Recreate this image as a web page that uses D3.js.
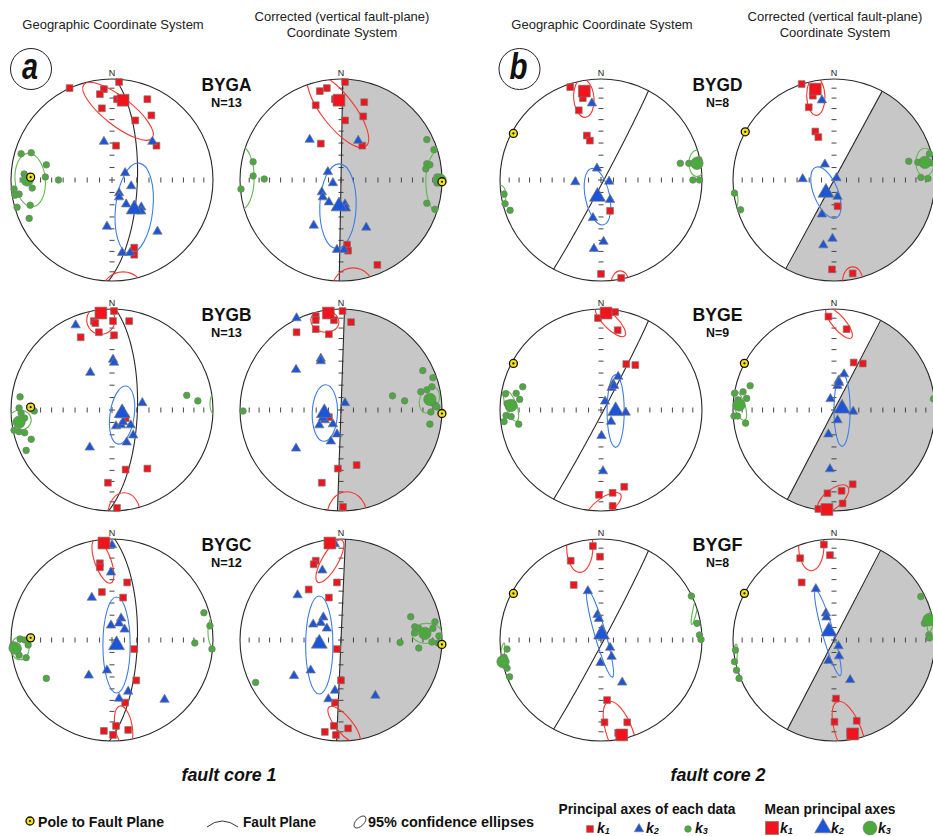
<!DOCTYPE html>
<html>
<head>
<meta charset="utf-8">
<script src="https://cdn.jsdelivr.net/npm/d3@7"></script>
<style>
  body { margin: 0; background: #fff; }
  text { font-family: "Liberation Sans", Arial, sans-serif; }
</style>
</head>
<body>
<script>
// point positions are in net units: [east, north], primitive circle = radius 1
// ellipses: [axis (0=k1,1=k2,2=k3), cx, cy, semi-major, semi-minor, angle deg ccw from east]
// fault pole: [trend, plunge]

const samples = ["BYGA", "BYGB", "BYGC", "BYGD", "BYGE", "BYGF"];
const sampleN = [13, 13, 12, 8, 9, 8];

// ---- BYGA
const BYGA_g_k1 = [[-0.42,0.91],[0.07,0.97],[-0.08,0.90],[-0.12,0.85],[0.05,0.80],[0.35,0.80],[-0.10,0.71],[0.39,0.64],[0.23,0.59],[0.04,0.34],[0.44,0.34],[0.22,-0.67],[0.22,-0.74]];
const BYGA_g_k2 = [[-0.08,0.38],[0.40,0.38],[0.13,0.07],[0.19,-0.06],[0.07,-0.13],[0.07,-0.17],[0.14,-0.24],[0.29,-0.27],[0.29,-0.31],[-0.05,-0.46],[0.45,-0.51],[0.10,-0.72],[0.18,-0.72]];
const BYGA_g_k3 = [[-0.80,0.27],[-0.90,0.26],[-0.65,0.15],[-0.87,0.06],[-0.66,0.03],[-0.53,0.0],[-0.79,-0.08],[-0.97,-0.09],[-0.92,-0.14],[-0.96,-0.15],[-0.94,-0.27],[-0.81,-0.25],[-0.82,-0.38]];
const BYGA_g_mean = [[0.11,0.79],[0.22,-0.29],[-0.84,0.0]];
const BYGA_g_ell = [[0,0.06,0.68,0.43,0.14,-38],[0,0.11,-1.11,0.21,0.20,0],[1,0.22,-0.28,0.45,0.185,84],[2,-0.81,0.0,0.265,0.15,95]];
const BYGA_g_pole = [272, 20.5];

const BYGA_c_k1 = [[0.04,0.97],[-0.14,0.91],[-0.21,0.88],[-0.06,0.80],[-0.25,0.74],[0.23,0.77],[0.04,0.59],[0.22,0.63],[-0.20,0.36],[0.21,0.34],[0.06,-0.64],[0.07,-0.70],[0.36,-0.84]];
const BYGA_c_k2 = [[-0.31,0.40],[0.17,0.39],[-0.13,0.08],[-0.08,-0.03],[-0.19,-0.12],[-0.18,-0.17],[-0.12,-0.22],[0.04,-0.24],[0.05,-0.28],[-0.27,-0.45],[0.25,-0.47],[-0.04,-0.69],[0.03,-0.69]];
const BYGA_c_k3 = [[0.85,0.40],[0.92,0.30],[0.85,0.16],[0.88,0.15],[0.84,0.11],[0.95,0.03],[0.85,-0.23],[0.93,-0.29],[-0.87,0.18],[-0.87,0.04],[-0.76,0.01],[-0.99,-0.09],[0.95,-0.03]];
const BYGA_c_mean = [[-0.02,0.79],[-0.02,-0.26],[0.98,0.0]];
const BYGA_c_ell = [[0,-0.03,0.69,0.45,0.16,-52],[0,0.12,-1.09,0.21,0.22,0],[1,-0.03,-0.26,0.42,0.18,88],[2,0.98,-0.02,0.32,0.14,90],[2,-1.0,0.02,0.32,0.14,90]];
const BYGA_c_pole = [91, 0];
const BYGA_c_shade = 1;

// ---- BYGB
const BYGB_g_k1 = [[0.02,0.98],[-0.18,0.88],[-0.165,0.86],[0.01,0.88],[0.17,0.88],[-0.13,0.77],[0.02,0.74],[-0.31,0.72],[0.135,-0.59],[0.35,-0.58],[-0.04,-0.72],[0.05,-0.97],[0.135,-0.08]];
const BYGB_g_k2 = [[-0.36,0.84],[0.01,0.50],[0.02,0.47],[-0.215,0.37],[0.30,0.07],[0.09,-0.05],[0.04,-0.16],[0.09,-0.15],[0.185,-0.15],[0.21,-0.25],[0.145,-0.32],[-0.22,-0.37],[0.11,-0.12]];
const BYGB_g_k3 = [[-0.91,0.13],[-0.92,0.02],[-0.81,0.03],[-0.77,-0.01],[-0.90,-0.03],[-0.865,-0.08],[-0.97,-0.20],[-0.92,-0.215],[-0.865,-0.225],[-0.80,-0.29],[-0.85,-0.40],[0.74,0.145],[0.85,0.09]];
const BYGB_g_mean = [[-0.11,0.96],[0.10,-0.03],[-0.92,-0.12]];
const BYGB_g_ell = [[0,-0.11,0.89,0.14,0.14,0],[0,0.12,-1.03,0.16,0.21,0],[1,0.10,-0.05,0.29,0.12,82],[2,-0.91,-0.1,0.11,0.1,0],[2,1.01,0.06,0.1,0.04,90]];
const BYGB_g_pole = [272, 20.5];

const BYGB_c_k1 = [[0.015,0.98],[-0.25,0.93],[-0.25,0.89],[-0.07,0.89],[0.10,0.87],[-0.25,0.80],[-0.12,0.75],[-0.44,0.77],[-0.12,-0.07],[-0.03,-0.58],[0.155,-0.545],[-0.19,-0.72],[0.02,-0.96]];
const BYGB_c_k2 = [[-0.44,0.91],[-0.20,0.51],[-0.20,0.485],[-0.445,0.40],[0.04,0.07],[-0.16,-0.03],[-0.215,-0.15],[-0.16,-0.10],[-0.08,-0.14],[-0.04,-0.24],[-0.10,-0.31],[-0.445,-0.38],[-0.18,-0.08]];
const BYGB_c_k3 = [[0.81,0.39],[0.91,0.32],[0.90,0.23],[0.85,0.20],[0.79,0.18],[0.51,0.14],[0.63,0.09],[0.91,0.07],[0.93,0.05],[0.89,-0.02],[0.88,-0.14],[-0.97,-0.01],[0.95,0.03]];
const BYGB_c_mean = [[-0.125,0.96],[-0.165,-0.03],[0.88,0.105]];
const BYGB_c_ell = [[0,-0.16,0.88,0.14,0.11,-10],[0,0.06,-1.06,0.2,0.25,0],[1,-0.16,-0.03,0.28,0.125,88],[2,0.875,0.1,0.135,0.095,70]];
const BYGB_c_pole = [92, 0];
const BYGB_c_shade = 2;

// ---- BYGC
const BYGC_g_k1 = [[-0.12,0.76],[-0.12,0.72],[0.15,0.57],[-0.10,0.475],[0.11,0.42],[0.22,-0.09],[0.24,-0.40],[0.13,-0.62],[0.04,-0.85],[-0.08,-0.90],[0.16,-0.89],[0.01,-0.94]];
const BYGC_g_k2 = [[0.0,0.94],[-0.01,0.67],[-0.20,0.42],[0.09,0.215],[0.07,0.165],[-0.01,0.145],[0.125,0.105],[-0.05,-0.30],[-0.23,-0.35],[0.16,-0.51],[0.07,-0.58],[0.52,-0.59]];
const BYGC_g_k3 = [[-0.91,0.01],[-0.865,0.0],[-0.83,-0.05],[-0.93,-0.09],[-0.92,-0.15],[-0.85,-0.175],[-0.65,-0.38],[0.82,-0.03],[0.91,0.27],[0.97,0.14],[0.99,-0.09],[-0.98,-0.05]];
const BYGC_g_mean = [[-0.08,0.96],[0.045,-0.05],[-0.96,-0.08]];
const BYGC_g_ell = [[0,-0.09,0.78,0.23,0.08,110],[0,0.115,-0.86,0.21,0.085,100],[1,0.045,-0.05,0.475,0.135,90],[2,-0.91,-0.08,0.115,0.09,90],[2,1.0,0.08,0.15,0.05,90]];
const BYGC_g_pole = [271.5, 20.5];

const BYGC_c_k1 = [[-0.25,0.785],[-0.27,0.75],[-0.04,0.57],[-0.32,0.50],[-0.12,0.42],[-0.04,-0.09],[0.0,-0.40],[-0.06,-0.62],[-0.07,-0.85],[0.07,-0.875],[-0.16,-0.91],[-0.05,-0.94]];
const BYGC_c_k2 = [[-0.06,0.95],[-0.185,0.69],[-0.43,0.445],[-0.175,0.225],[-0.275,0.155],[-0.20,0.17],[-0.14,0.115],[-0.30,-0.30],[-0.465,-0.355],[-0.06,-0.50],[-0.125,-0.585],[0.34,-0.55]];
const BYGC_c_k3 = [[0.69,0.23],[0.93,0.18],[0.73,0.13],[0.77,0.115],[0.73,0.07],[0.91,0.115],[0.97,0.04],[0.90,-0.02],[0.96,-0.03],[0.77,-0.08],[0.585,-0.025],[-0.845,-0.42]];
const BYGC_c_mean = [[-0.11,0.96],[-0.215,-0.035],[0.83,0.065]];
const BYGC_c_ell = [[0,-0.11,0.78,0.24,0.08,60],[0,0.03,-0.84,0.23,0.08,-50],[1,-0.215,-0.05,0.485,0.135,90],[2,0.85,0.065,0.15,0.1,0]];
const BYGC_c_pole = [92.5, 0];
const BYGC_c_shade = 2.5;

// ---- BYGD
const BYGD_g_k1 = [[-0.305,0.92],[-0.18,0.81],[-0.22,0.69],[-0.14,0.44],[-0.11,0.39],[0.09,-0.305],[0.0,-0.93],[0.20,-0.97]];
const BYGD_g_k2 = [[-0.09,0.76],[-0.04,0.115],[-0.255,-0.02],[0.08,-0.015],[0.09,-0.195],[-0.08,-0.375],[0.025,-0.61],[-0.07,-0.68]];
const BYGD_g_k3 = [[0.785,0.165],[0.87,0.165],[0.91,0.0],[0.975,0.0],[-0.96,-0.14],[-0.95,-0.235],[-0.90,-0.30],[0.97,0.20]];
const BYGD_g_mean = [[-0.165,0.88],[-0.035,-0.165],[0.95,0.165]];
const BYGD_g_ell = [[0,-0.17,0.81,0.19,0.1,95],[0,0.19,-1.03,0.13,0.09,90],[1,-0.035,-0.165,0.285,0.12,102],[2,0.95,0.165,0.13,0.08,90],[2,-1.0,-0.15,0.1,0.06,90]];
const BYGD_g_pole = [298, 2];

const BYGD_c_k1 = [[-0.32,0.95],[-0.21,0.835],[-0.25,0.72],[-0.185,0.48],[-0.155,0.425],[0.035,-0.26],[-0.02,-0.885],[0.185,-0.925]];
const BYGD_c_k2 = [[-0.12,0.79],[-0.09,0.155],[-0.31,0.01],[0.025,0.02],[0.035,-0.165],[-0.12,-0.34],[-0.015,-0.58],[-0.105,-0.645]];
const BYGD_c_k3 = [[0.74,0.185],[0.83,0.175],[0.945,0.26],[0.86,0.025],[0.93,0.015],[-0.985,-0.13],[-0.925,-0.295],[0.96,0.17]];
const BYGD_c_mean = [[-0.185,0.90],[-0.08,-0.125],[0.90,0.175]];
const BYGD_c_ell = [[0,-0.18,0.83,0.19,0.09,92],[0,0.185,-1.0,0.14,0.1,90],[1,-0.08,-0.125,0.27,0.12,112],[2,0.90,0.175,0.14,0.09,90],[2,-1.0,-0.2,0.1,0.05,90]];
const BYGD_c_pole = [298.5, 0];
const BYGD_c_shade = 28;

// ---- BYGE
const BYGE_g_k1 = [[0.14,0.97],[-0.03,0.91],[0.165,0.79],[0.25,0.455],[0.34,0.445],[-0.02,-0.84],[0.115,-0.82],[0.23,-0.76],[0.115,-0.95]];
const BYGE_g_k2 = [[0.17,0.33],[0.12,0.255],[0.105,0.22],[0.04,0.085],[0.245,-0.025],[0.10,-0.115],[0.005,-0.255],[0.02,-0.605],[0.13,0.24]];
const BYGE_g_k3 = [[-0.775,0.23],[-0.84,0.165],[-0.805,0.105],[-0.945,0.16],[-0.93,0.065],[-0.94,-0.055],[-0.89,-0.065],[-0.96,-0.115],[-0.815,-0.14]];
const BYGE_g_mean = [[0.05,0.96],[0.145,-0.01],[-0.89,0.045]];
const BYGE_g_ell = [[0,0.094,0.875,0.2,0.07,-45],[0,0.03,-0.95,0.2,0.08,35],[1,0.145,-0.01,0.36,0.085,90],[2,-0.89,0.04,0.16,0.055,110]];
const BYGE_g_pole = [298, 2];

const BYGE_c_k1 = [[-0.055,0.925],[0.125,0.80],[0.195,0.47],[0.285,0.46],[0.185,-0.735],[0.075,-0.80],[-0.065,-0.825],[0.085,-0.925],[-0.155,-0.98]];
const BYGE_c_k2 = [[0.10,0.355],[0.045,0.29],[0.035,0.24],[-0.035,0.11],[0.19,-0.015],[0.035,-0.10],[-0.055,-0.24],[-0.04,-0.585],[0.05,0.27]];
const BYGE_c_k3 = [[-0.83,0.24],[-0.90,0.18],[-0.985,0.165],[-0.865,0.115],[-0.95,0.10],[-0.99,-0.06],[-0.955,-0.06],[-0.875,-0.13],[0.985,0.11]];
const BYGE_c_mean = [[-0.07,-0.985],[0.08,0.015],[-0.94,0.05]];
const BYGE_c_ell = [[0,0.05,0.86,0.19,0.065,-50],[0,-0.01,-0.88,0.19,0.09,40],[1,0.08,0.0,0.36,0.08,90],[2,-0.94,0.05,0.16,0.055,110]];
const BYGE_c_pole = [297.5, 0];
const BYGE_c_shade = 28;

// ---- BYGF
const BYGF_g_k1 = [[-0.08,0.93],[-0.01,0.825],[-0.30,0.785],[-0.27,0.545],[0.06,-0.595],[0.035,-0.815],[0.26,-0.815],[0.17,-0.92]];
const BYGF_g_k2 = [[-0.13,0.485],[-0.035,0.25],[-0.02,0.21],[0.01,0.10],[0.09,-0.075],[0.105,-0.165],[-0.005,-0.225],[0.21,-0.42]];
const BYGF_g_k3 = [[0.895,0.435],[0.95,0.165],[0.975,0.05],[0.99,0.005],[-0.93,-0.09],[-0.93,-0.28],[-0.905,-0.365],[-0.96,-0.17]];
const BYGF_g_mean = [[0.205,-0.94],[0.005,0.055],[-0.97,-0.215]];
const BYGF_g_ell = [[0,-0.21,0.92,0.25,0.13,90],[0,0.19,-0.93,0.34,0.13,110],[1,-0.01,0.065,0.45,0.055,106],[2,0.93,0.30,0.15,0.02,78],[2,-0.98,-0.17,0.14,0.02,82]];
const BYGF_g_pole = [298, 2];

const BYGF_c_k1 = [[-0.10,0.945],[-0.04,0.84],[-0.335,0.81],[-0.32,0.57],[0.02,-0.58],[0.005,-0.81],[0.225,-0.80],[0.16,-0.92]];
const BYGF_c_k2 = [[-0.18,0.505],[-0.08,0.265],[-0.075,0.225],[-0.055,0.10],[0.045,-0.06],[0.05,-0.16],[-0.055,-0.205],[0.16,-0.395]];
const BYGF_c_k3 = [[0.86,0.43],[0.895,0.165],[0.94,0.05],[0.945,0.02],[-0.975,-0.10],[-0.985,-0.215],[-0.965,-0.30],[-0.94,-0.38]];
const BYGF_c_mean = [[0.185,-0.93],[-0.05,0.085],[0.94,0.20]];
const BYGF_c_ell = [[0,-0.225,0.93,0.245,0.125,90],[0,0.15,-0.93,0.34,0.13,110],[1,-0.06,0.07,0.44,0.055,106],[2,0.96,0.2,0.12,0.03,80],[2,-0.98,-0.17,0.13,0.02,85]];
const BYGF_c_pole = [297.5, 0];
const BYGF_c_shade = 28;

const tickPlunges = [80, 70, 60, 50, 40, 30, 20, 10];
const headers = ["Geographic Coordinate System", ["Corrected (vertical fault-plane)", "Coordinate System"]];
const coreLabels = ["fault core 1", "fault core 2"];
const panelLetters = ["a", "b"];

// ---------------------------------------------------------------
const W = 933, H = 836, R = 101;
const colX = [112, 341, 601, 834];
const rowY = [180, 410, 640];
const RED = "#f0141c", BLUE = "#1d55d8", GREEN = "#4aaa3c";
const axisColor = [RED, BLUE, GREEN];
const ellColor = ["#f5372f", "#3d7de6", "#62b94e"];

const nets = [
  { id: "BYGA_g", col: 0, row: 0, k1: BYGA_g_k1, k2: BYGA_g_k2, k3: BYGA_g_k3, mean: BYGA_g_mean, ell: BYGA_g_ell, pole: BYGA_g_pole, shade: null },
  { id: "BYGA_c", col: 1, row: 0, k1: BYGA_c_k1, k2: BYGA_c_k2, k3: BYGA_c_k3, mean: BYGA_c_mean, ell: BYGA_c_ell, pole: BYGA_c_pole, shade: BYGA_c_shade },
  { id: "BYGB_g", col: 0, row: 1, k1: BYGB_g_k1, k2: BYGB_g_k2, k3: BYGB_g_k3, mean: BYGB_g_mean, ell: BYGB_g_ell, pole: BYGB_g_pole, shade: null },
  { id: "BYGB_c", col: 1, row: 1, k1: BYGB_c_k1, k2: BYGB_c_k2, k3: BYGB_c_k3, mean: BYGB_c_mean, ell: BYGB_c_ell, pole: BYGB_c_pole, shade: BYGB_c_shade },
  { id: "BYGC_g", col: 0, row: 2, k1: BYGC_g_k1, k2: BYGC_g_k2, k3: BYGC_g_k3, mean: BYGC_g_mean, ell: BYGC_g_ell, pole: BYGC_g_pole, shade: null },
  { id: "BYGC_c", col: 1, row: 2, k1: BYGC_c_k1, k2: BYGC_c_k2, k3: BYGC_c_k3, mean: BYGC_c_mean, ell: BYGC_c_ell, pole: BYGC_c_pole, shade: BYGC_c_shade },
  { id: "BYGD_g", col: 2, row: 0, k1: BYGD_g_k1, k2: BYGD_g_k2, k3: BYGD_g_k3, mean: BYGD_g_mean, ell: BYGD_g_ell, pole: BYGD_g_pole, shade: null },
  { id: "BYGD_c", col: 3, row: 0, k1: BYGD_c_k1, k2: BYGD_c_k2, k3: BYGD_c_k3, mean: BYGD_c_mean, ell: BYGD_c_ell, pole: BYGD_c_pole, shade: BYGD_c_shade },
  { id: "BYGE_g", col: 2, row: 1, k1: BYGE_g_k1, k2: BYGE_g_k2, k3: BYGE_g_k3, mean: BYGE_g_mean, ell: BYGE_g_ell, pole: BYGE_g_pole, shade: null },
  { id: "BYGE_c", col: 3, row: 1, k1: BYGE_c_k1, k2: BYGE_c_k2, k3: BYGE_c_k3, mean: BYGE_c_mean, ell: BYGE_c_ell, pole: BYGE_c_pole, shade: BYGE_c_shade },
  { id: "BYGF_g", col: 2, row: 2, k1: BYGF_g_k1, k2: BYGF_g_k2, k3: BYGF_g_k3, mean: BYGF_g_mean, ell: BYGF_g_ell, pole: BYGF_g_pole, shade: null },
  { id: "BYGF_c", col: 3, row: 2, k1: BYGF_c_k1, k2: BYGF_c_k2, k3: BYGF_c_k3, mean: BYGF_c_mean, ell: BYGF_c_ell, pole: BYGF_c_pole, shade: BYGF_c_shade }
];

const rad = Math.PI / 180;

// lower hemisphere equal-area (Schmidt) projection of a unit vector [E, N, Up]
function lambert(v) {
  const k = 1 / Math.sqrt(1 - v[2]);
  return [v[0] * k, v[1] * k];
}
function lineVec(trend, plunge) {
  return [Math.cos(plunge * rad) * Math.sin(trend * rad), Math.cos(plunge * rad) * Math.cos(trend * rad), -Math.sin(plunge * rad)];
}
// great circle of the plane whose pole is given
function greatCircle(pole) {
  const dd = pole[0] + 180, dip = 90 - pole[1], str = dd - 90;
  const s = [Math.sin(str * rad), Math.cos(str * rad), 0];
  const d = [Math.sin(dd * rad) * Math.cos(dip * rad), Math.cos(dd * rad) * Math.cos(dip * rad), -Math.sin(dip * rad)];
  return d3.range(0, 181, 2).map(t => {
    const c = Math.cos(t * rad), sn = Math.sin(t * rad);
    return lambert([c * s[0] + sn * d[0], c * s[1] + sn * d[1], Math.min(0, c * s[2] + sn * d[2])]);
  });
}
const eqArea = p => Math.SQRT2 * Math.sin((90 - p) / 2 * rad);

const svg = d3.select("body").append("svg").attr("width", W).attr("height", H);
const defs = svg.append("defs");

const sym = (type, size) => d3.symbol().type(type).size(size)();

function drawNet(net) {
  const cx = colX[net.col], cy = rowY[net.row];
  const x = d3.scaleLinear().domain([-1, 1]).range([cx - R, cx + R]);
  const y = d3.scaleLinear().domain([-1, 1]).range([cy + R, cy - R]);
  const g = svg.append("g");

  defs.append("clipPath").attr("id", "clip_" + net.id)
    .append("circle").attr("cx", cx).attr("cy", cy).attr("r", R);

  if (net.shade !== null) {
    g.append("path")
      .attr("transform", `translate(${cx},${cy})`)
      .attr("d", d3.arc()({ innerRadius: 0, outerRadius: R, startAngle: net.shade * rad, endAngle: (net.shade + 180) * rad }))
      .attr("fill", "#c7c7c7");
  }
  g.append("circle").attr("cx", cx).attr("cy", cy).attr("r", R)
    .attr("fill", "none").attr("stroke", "#2a2a2a").attr("stroke-width", 1.1);

  // ticks on the N-S and E-W diameters
  const tk = g.append("g").attr("stroke", "#444").attr("stroke-width", 1);
  tickPlunges.forEach(p => {
    const r = eqArea(p);
    [r, -r].forEach(v => {
      tk.append("line").attr("x1", x(0) - 2.5).attr("x2", x(0) + 2.5).attr("y1", y(v)).attr("y2", y(v));
      tk.append("line").attr("y1", y(0) - 2.5).attr("y2", y(0) + 2.5).attr("x1", x(v)).attr("x2", x(v));
    });
  });
  tk.append("line").attr("x1", x(0) - 3).attr("x2", x(0) + 3).attr("y1", y(0)).attr("y2", y(0));
  tk.append("line").attr("y1", y(0) - 3).attr("y2", y(0) + 3).attr("x1", x(0)).attr("x2", x(0));

  g.append("text").attr("x", x(0)).attr("y", y(1) - 3).attr("text-anchor", "middle")
    .attr("font-size", 9).attr("fill", "#222").text("N");

  // fault plane
  g.append("path")
    .attr("d", d3.line().x(d => x(d[0])).y(d => y(d[1]))(greatCircle(net.pole)))
    .attr("fill", "none").attr("stroke", "#2a2a2a").attr("stroke-width", 1.1);

  // confidence ellipses
  const ge = g.append("g").attr("clip-path", `url(#clip_${net.id})`);
  net.ell.forEach(e => {
    const px = x(e[1]), py = y(e[2]);
    ge.append("ellipse").attr("cx", px).attr("cy", py)
      .attr("rx", x(e[3]) - x(0)).attr("ry", x(e[4]) - x(0))
      .attr("transform", `rotate(${-e[5]} ${px} ${py})`)
      .attr("fill", "none").attr("stroke", ellColor[e[0]]).attr("stroke-width", 1.1);
  });

  const types = [d3.symbolSquare, d3.symbolTriangle, d3.symbolCircle];
  const smallSize = [46, 38, 34], bigSize = [140, 110, 120];
  [net.k1, net.k2, net.k3].forEach((pts, i) => {
    g.append("g").selectAll("path").data(pts).join("path")
      .attr("transform", d => `translate(${x(d[0])},${y(d[1])})`)
      .attr("d", sym(types[i], smallSize[i]))
      .attr("fill", axisColor[i]).attr("stroke", "#7a7a7a").attr("stroke-width", 0.7);
  });
  g.append("g").selectAll("path").data(net.mean).join("path")
    .attr("transform", d => `translate(${x(d[0])},${y(d[1])})`)
    .attr("d", (d, i) => sym(types[i], bigSize[i]))
    .attr("fill", (d, i) => axisColor[i]).attr("stroke", "#7a7a7a").attr("stroke-width", 0.7);

  // pole to fault plane
  const pp = lambert(lineVec(net.pole[0], net.pole[1]));
  drawPole(g, x(pp[0]), y(pp[1]));
}

function drawPole(g, px, py) {
  g.append("circle").attr("cx", px).attr("cy", py).attr("r", 4)
    .attr("fill", "#f2e21a").attr("stroke", "#111").attr("stroke-width", 1.3);
  g.append("circle").attr("cx", px).attr("cy", py).attr("r", 1.1).attr("fill", "#111");
}

nets.forEach(drawNet);

// condensed bold text helper (no narrow font installed, so squeeze to width)
function narrow(sel, x, y, str, size, width, anchor, italic) {
  return sel.append("text").attr("x", x).attr("y", y).attr("text-anchor", anchor || "start")
    .attr("font-size", size).attr("font-weight", "bold").attr("font-style", italic ? "italic" : null)
    .attr("textLength", width).attr("lengthAdjust", "spacingAndGlyphs").attr("fill", "#111").text(str);
}

// column headers
[0, 2].forEach(c => {
  svg.append("text").attr("x", colX[c] + 1).attr("y", 29).attr("text-anchor", "middle")
    .attr("font-size", 13).attr("fill", "#222").text(headers[0]);
  headers[1].forEach((t, i) => {
    svg.append("text").attr("x", colX[c + 1] + 1).attr("y", 21 + 16 * i).attr("text-anchor", "middle")
      .attr("font-size", 13).attr("fill", "#222").text(t);
  });
});

// sample labels
samples.forEach((s, i) => {
  const c = i < 3 ? 0 : 2, r = i % 3;
  const lx = (colX[c] + colX[c + 1]) / 2;
  narrow(svg, lx, rowY[r] - 89, s, 19, 50, "middle");
  narrow(svg, lx, rowY[r] - 73, "N=" + sampleN[i], 13, sampleN[i] > 9 ? 31 : 23, "middle");
});

// panel letters
[[31, 69], [519.5, 69]].forEach((p, i) => {
  svg.append("circle").attr("cx", p[0]).attr("cy", p[1]).attr("r", 20.5)
    .attr("fill", "none").attr("stroke", "#222").attr("stroke-width", 1);
  narrow(svg, p[0] - 1, p[1] + 10, panelLetters[i], 36, i ? 18 : 16, "middle", true);
});

// fault core labels
[229, 718].forEach((lx, i) => {
  narrow(svg, lx, 781, coreLabels[i], 19, 95, "middle", true);
});

// legend
const lg = svg.append("g");
drawPole(lg, 30, 821);
narrow(lg, 38, 827, "Pole to Fault Plane", 15, 126);
lg.append("path").attr("d", "M207,827 Q222,815 238,827").attr("fill", "none").attr("stroke", "#333").attr("stroke-width", 1);
narrow(lg, 243, 827, "Fault Plane", 15, 73);
lg.append("ellipse").attr("cx", 360).attr("cy", 822).attr("rx", 7.5).attr("ry", 4)
  .attr("transform", "rotate(-45 360 822)").attr("fill", "none").attr("stroke", "#333").attr("stroke-width", 0.9);
narrow(lg, 368, 827, "95% confidence ellipses", 15, 166);
narrow(lg, 647, 814, "Principal axes of each data", 15, 177, "middle");
narrow(lg, 830, 814, "Mean principal axes", 15, 131, "middle");

const legTypes = [d3.symbolSquare, d3.symbolTriangle, d3.symbolCircle];
[[590, 639, 688], [772, 823, 870]].forEach((xs, set) => {
  xs.forEach((lx, i) => {
    lg.append("path").attr("transform", `translate(${lx},${set ? 828 : 829})`)
      .attr("d", sym(legTypes[i], set ? [170, 120, 150][i] : [46, 38, 34][i]))
      .attr("fill", axisColor[i]).attr("stroke", "#7a7a7a").attr("stroke-width", 0.7);
    const t = lg.append("text").attr("x", lx + (set ? 8 : 7)).attr("y", 833)
      .attr("font-size", 14).attr("font-weight", "bold").attr("font-style", "italic").attr("fill", "#111");
    t.append("tspan").text("k");
    t.append("tspan").attr("font-size", 9).attr("dy", 1).text(i + 1);
  });
});
</script>
</body>
</html>
